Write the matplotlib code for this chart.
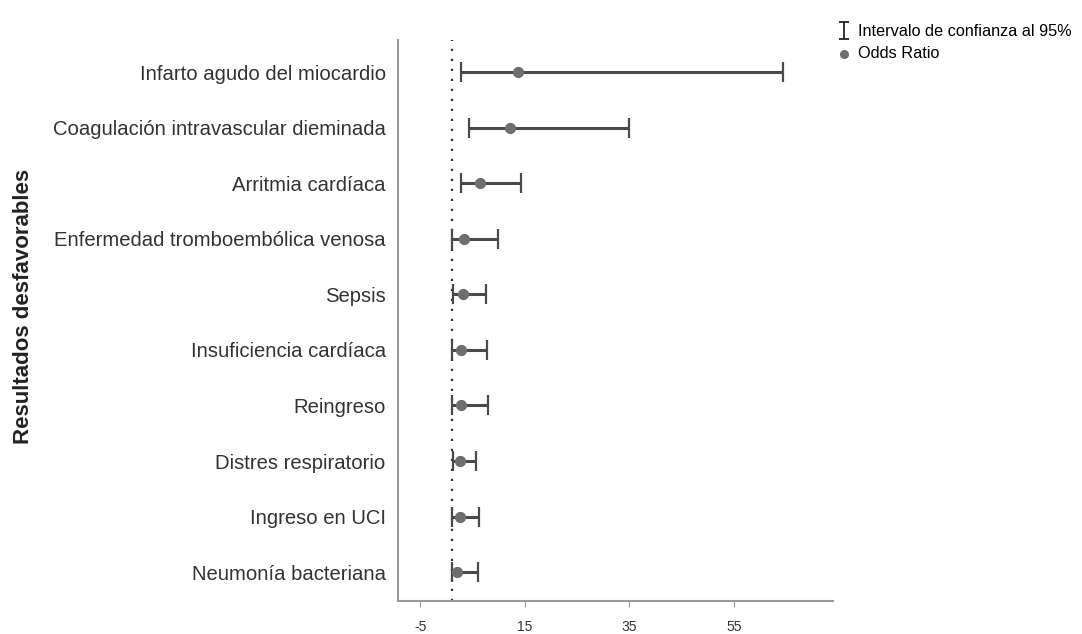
import numpy as np
import matplotlib
matplotlib.use("Agg")
import matplotlib.pyplot as plt

plt.rcParams['font.family'] = ['Liberation Sans', 'DejaVu Sans']

# data (bottom to top)
categories = [
    "Neumonía bacteriana",
    "Ingreso en UCI",
    "Distres respiratorio",
    "Reingreso",
    "Insuficiencia cardíaca",
    "Sepsis",
    "Enfermedad tromboembólica venosa",
    "Arritmia cardíaca",
    "Coagulación intravascular dieminada",
    "Infarto agudo del miocardio",
]
odds_ratio = [2.1, 2.7, 2.7, 2.9, 2.9, 3.2, 3.4, 6.5, 12.2, 13.8]
ci_low = [1.0, 1.0, 1.3, 1.0, 1.0, 1.2, 1.0, 2.9, 4.3, 2.9]
ci_high = [6.0, 6.3, 5.7, 7.9, 7.8, 7.6, 9.8, 14.3, 34.9, 64.5]
x_ticks = [-5, 15, 35, 55]

fig = plt.figure(figsize=(10.82, 6.34), dpi=100)
ax = fig.add_axes([0.368, 0.052, 0.402, 0.885])

y = np.arange(len(categories))
or_arr = np.array(odds_ratio)
err = [or_arr - np.array(ci_low), np.array(ci_high) - or_arr]

ax.errorbar(odds_ratio, y, xerr=err, fmt='none', ecolor='#4a4a4a',
            elinewidth=2.2, capsize=7, capthick=1.6, zorder=2)
ax.scatter(odds_ratio, y, s=50, color='#6e6e6e', zorder=3)
ax.axvline(1, color='#333333', linestyle=(0, (1, 3.5)), lw=1.6, zorder=1)

ax.set_xlim(-9.2, 74)
ax.set_ylim(-0.52, 9.58)
ax.set_xticks(x_ticks)
ax.set_xticklabels([str(t) for t in x_ticks], fontsize=10, color='#333333')
ax.set_yticks(y)
ax.set_yticklabels(categories, fontsize=14.6, color='#333333')
ax.tick_params(axis='y', length=0, pad=9)
ax.tick_params(axis='x', length=4, color='#999999', pad=10)

for side in ['top', 'right']:
    ax.spines[side].set_visible(False)
for side in ['left', 'bottom']:
    ax.spines[side].set_color('#999999')
    ax.spines[side].set_linewidth(1.5)

fig.text(0.022, 0.516, "Resultados desfavorables", rotation=90, fontsize=16,
         fontweight='bold', color='#222222', va='center', ha='center')

# legend handles
eb = ax.errorbar([np.nan], [np.nan], yerr=[1], fmt='none', ecolor='#222222',
                 elinewidth=1.3, capsize=3.5, capthick=1.3,
                 label="Intervalo de confianza al 95%")
sc = ax.scatter([np.nan], [np.nan], s=30, color='#6e6e6e', label="Odds Ratio")
fig.legend(handles=[eb, sc], loc='upper left',
           bbox_to_anchor=(0.771, 0.967), frameon=False, fontsize=11.7,
           handlelength=0.8, handletextpad=0.45, labelspacing=0.42,
           borderpad=0.2, borderaxespad=0)

fig.savefig("out.png", dpi=100)
